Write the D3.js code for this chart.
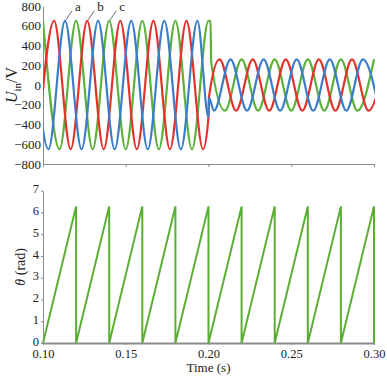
<!DOCTYPE html>
<html>
<head>
<meta charset="utf-8">
<script src="https://cdn.jsdelivr.net/npm/d3@7"></script>
<style>
  body { margin: 0; background: #fff; }
</style>
</head>
<body>
<svg id="chart" width="387" height="376"></svg>
<script>
// ---- data ----
const timeTicks = [0.10, 0.15, 0.20, 0.25, 0.30];
const voltTicks = [-800, -600, -400, -200, 0, 200, 400, 600, 800];
const angleTicks = [0, 1, 2, 3, 4, 5, 6, 7];

// extremes of each phase voltage [time (s), U (V)], amplitude drops at 0.20 s
const phaseA = [ // blue
  [0.0933, 650], [0.1033, -650], [0.1133, 650], [0.1233, -650], [0.1333, 650],
  [0.1433, -650], [0.1533, 650], [0.1633, -650], [0.1733, 650], [0.1833, -650],
  [0.1933, 650], [0.2000, -325], [0.2003, -130], [0.2033, -260], [0.2133, 260],
  [0.2233, -260], [0.2333, 260], [0.2433, -260], [0.2533, 260], [0.2633, -260],
  [0.2733, 260], [0.2833, -260], [0.2933, 260], [0.3033, -260]
];
const phaseB = [ // red
  [0.0967, -650], [0.1067, 650], [0.1167, -650], [0.1267, 650], [0.1367, -650],
  [0.1467, 650], [0.1567, -650], [0.1667, 650], [0.1767, -650], [0.1867, 650],
  [0.1967, -650], [0.2000, -325], [0.2003, -120], [0.2067, 260], [0.2167, -260],
  [0.2267, 260], [0.2367, -260], [0.2467, 260], [0.2567, -260], [0.2667, 260],
  [0.2767, -260], [0.2867, 260], [0.2967, -260], [0.3067, 260]
];
const phaseC = [ // green
  [0.100, 650], [0.110, -650], [0.120, 650], [0.130, -650], [0.140, 650],
  [0.150, -650], [0.160, 650], [0.170, -650], [0.180, 650], [0.190, -650],
  [0.200, 650], [0.2012, 645], [0.2016, 235], [0.210, -260], [0.220, 260],
  [0.230, -260], [0.240, 260], [0.250, -260], [0.260, 260], [0.270, -260],
  [0.280, 260], [0.290, -260], [0.300, 260]
];

// PLL angle, sawtooth [time (s), theta (rad)]
const theta = [
  [0.10, 0], [0.12, 6.28], [0.12, 0], [0.14, 6.28], [0.14, 0], [0.16, 6.28],
  [0.16, 0], [0.18, 6.28], [0.18, 0], [0.20, 6.28], [0.20, 0], [0.22, 6.28],
  [0.22, 0], [0.24, 6.28], [0.24, 0], [0.26, 6.28], [0.26, 0], [0.28, 6.28],
  [0.28, 0], [0.30, 6.28], [0.30, 0]
];

const phaseLabels = ["a", "b", "c"];
const labelTimes = [0.1133, 0.1267, 0.1400];
const labelVolts = [650, 650, 650];

// ---- drawing ----
const svg = d3.select("#chart");
const serif = '"Liberation Serif", "Times New Roman", serif';
const colors = { a: "#3b7dcb", b: "#e2322b", c: "#5bb13a" };

const x = d3.scaleLinear().domain([0.10, 0.30]).range([43, 374]);
const yU = d3.scaleLinear().domain([-800, 800]).range([164, 6]);
const yT = d3.scaleLinear().domain([0, 7]).range([343, 190.7]);

svg.append("defs").append("clipPath").attr("id", "clipTop")
  .append("rect")
  .attr("x", x(0.10)).attr("y", 0)
  .attr("width", x(0.30) - x(0.10) + 1).attr("height", 170);

function styleAxis(g, w, fs) {
  g.attr("font-family", null);
  g.select(".domain").attr("stroke", "#8c8c8c").attr("stroke-width", w || 1);
  g.selectAll(".tick line").attr("stroke", "#8c8c8c");
  g.selectAll("text").style("font-size", (fs || 13) + "px").attr("fill", "#222");
}

// top panel axes
svg.append("g")
  .attr("transform", `translate(0,${yU(-800)})`)
  .call(d3.axisBottom(x).tickValues(timeTicks).tickFormat("").tickSizeInner(3).tickSizeOuter(0))
  .call(g => styleAxis(g));

svg.append("g")
  .attr("transform", `translate(${x(0.10)},0)`)
  .call(d3.axisLeft(yU).tickValues(voltTicks).tickSize(0).tickPadding(2))
  .call(g => styleAxis(g));

const lineU = d3.line()
  .x(d => x(d[0]))
  .y(d => yU(d[1]))
  .curve(d3.curveMonotoneX);

const topPanel = svg.append("g").attr("clip-path", "url(#clipTop)");
[[phaseC, colors.c], [phaseB, colors.b], [phaseA, colors.a]].forEach(([data, col]) => {
  topPanel.append("path")
    .datum(data)
    .attr("fill", "none")
    .attr("stroke", col)
    .attr("stroke-width", 2.2)
    .attr("d", lineU);
});

// a, b, c labels
phaseLabels.forEach((lab, i) => {
  const px = x(labelTimes[i]), py = yU(labelVolts[i]);
  svg.append("line")
    .attr("x1", px + 1).attr("y1", py - 1)
    .attr("x2", px + 7).attr("y2", py - 10)
    .attr("stroke", "#444").attr("stroke-width", 0.8);
  svg.append("text")
    .attr("x", px + 10).attr("y", py - 10)
    .style("font-size", "13px")
    .text(lab);
});

// Uin/V title
const tU = svg.append("text")
  .attr("transform", `translate(17,${yU(0)}) rotate(-90)`)
  .attr("text-anchor", "middle")
  .style("font-size", "16px");
tU.append("tspan").style("font-style", "italic").text("U");
tU.append("tspan").attr("dy", 4).style("font-size", "11px").text("in");
tU.append("tspan").attr("dy", -4).text("/V");

// bottom panel axes
svg.append("g")
  .attr("transform", `translate(0,${yT(0)})`)
  .call(d3.axisBottom(x).tickValues(timeTicks).tickFormat(d3.format(".2f")).tickSizeInner(2).tickSizeOuter(0).tickPadding(4))
  .call(g => styleAxis(g, 2, 12.5));

svg.append("g")
  .attr("transform", `translate(${x(0.10)},0)`)
  .call(d3.axisLeft(yT).tickValues(angleTicks).tickFormat(d3.format("d")).tickSizeInner(2).tickSizeOuter(0).tickPadding(2))
  .call(g => styleAxis(g, 1, 12.5))
  .call(g => g.selectAll("text").attr("dy", "0.18em"));

const lineT = d3.line()
  .x(d => x(d[0]))
  .y(d => yT(d[1]));

svg.append("path")
  .datum(theta)
  .attr("fill", "none")
  .attr("stroke", "#5aae33")
  .attr("stroke-width", 2)
  .attr("d", lineT);

const tT = svg.append("text")
  .attr("transform", `translate(25,${(yT(0) + yT(7)) / 2}) rotate(-90)`)
  .attr("text-anchor", "middle")
  .style("font-size", "14px");
tT.append("tspan").style("font-style", "italic").text("θ");
tT.append("tspan").text(" (rad)");

svg.append("text")
  .attr("x", (x(0.10) + x(0.30)) / 2)
  .attr("y", 372)
  .attr("text-anchor", "middle")
  .style("font-size", "13px")
  .text("Time (s)");

svg.selectAll("text").style("font-family", serif).attr("fill", "#222");
</script>
</body>
</html>
